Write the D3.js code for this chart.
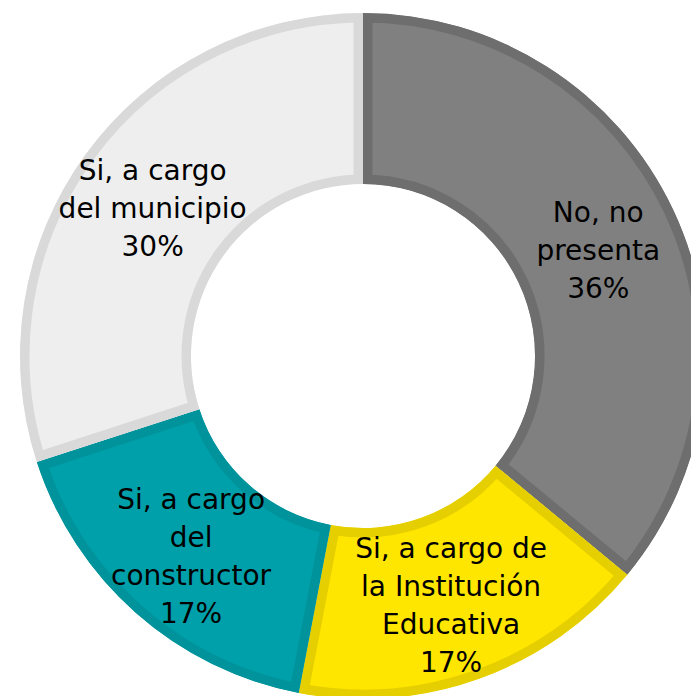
<!DOCTYPE html>
<html>
<head>
<meta charset="utf-8">
<style>
  body { margin: 0; background: #fff; }
  .label { font-family: "DejaVu Sans", sans-serif; font-size: 28px; fill: #000; }
</style>
</head>
<body>
<div id="chart"></div>
<script src="https://d3js.org/d3.v7.min.js"></script>
<script>
// slice order runs clockwise from 12 o'clock
const categories = [
  ['No, no', 'presenta'],
  ['Si, a cargo de', 'la Institución', 'Educativa'],
  ['Si, a cargo', 'del', 'constructor'],
  ['Si, a cargo', 'del municipio']
];
const values = [36, 17, 17, 30];
const fills = ['#808080', '#ffe600', '#00a0aa', '#eeeeee'];
const borders = ['#6e6e6e', '#e6cf00', '#00939c', '#d9d9d9'];

const width = 691;
const height = 696;
const cx = 363, cy = 356;
const outerR = 343, innerR = 172;

const svg = d3.select('#chart')
  .append('svg')
  .attr('width', width)
  .attr('height', height);

const pie = d3.pie().sort(null).value((d) => d);
const arc = d3.arc().innerRadius(innerR).outerRadius(outerR);
const labelArc = d3.arc().innerRadius(260).outerRadius(260);

const arcs = pie(values);
const g = svg.append('g').attr('transform', `translate(${cx},${cy})`);

const defs = svg.append('defs');
arcs.forEach((d, i) => {
  defs.append('clipPath').attr('id', 'clip' + i)
    .append('path').attr('d', arc(d));
});

// inner border: double-width stroke clipped to the slice
g.selectAll('path.slice')
  .data(arcs)
  .enter()
  .append('path')
  .attr('class', 'slice')
  .attr('d', arc)
  .attr('fill', (d, i) => fills[i])
  .attr('stroke', (d, i) => borders[i])
  .attr('stroke-width', 19)
  .attr('stroke-linejoin', 'miter')
  .attr('clip-path', (d, i) => `url(#clip${i})`);

const lineH = 38;
arcs.forEach((d, i) => {
  const [x, y] = labelArc.centroid(d);
  const lines = categories[i].concat([values[i] + '%']);
  const t = g.append('text')
    .attr('class', 'label')
    .attr('text-anchor', 'middle')
    .attr('x', x)
    .attr('y', y + 5 - (lines.length - 1) * lineH / 2);
  lines.forEach((s, j) => {
    t.append('tspan')
      .attr('x', x)
      .attr('dy', j === 0 ? '0.35em' : lineH)
      .text(s);
  });
});
</script>
</body>
</html>
